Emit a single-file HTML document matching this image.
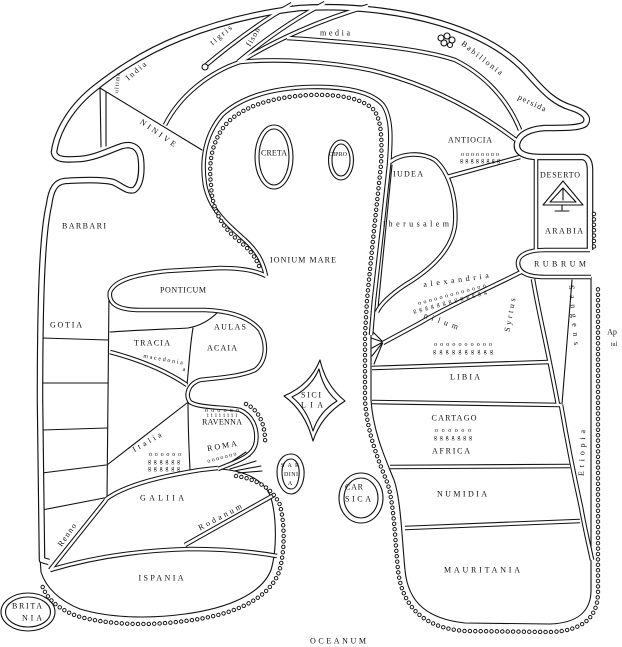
<!DOCTYPE html>
<html><head><meta charset="utf-8">
<style>
html,body{margin:0;padding:0;background:#fff;}
svg{display:block;}
.s{fill:none;stroke:#111;stroke-width:1.1;stroke-linecap:round;stroke-linejoin:round}
.W{fill:none;stroke:#111;stroke-width:6.6;stroke-linejoin:round}
.Wi{fill:none;stroke:#fff;stroke-width:4.3;stroke-linejoin:round}
.N{fill:none;stroke:#111;stroke-width:4.6;stroke-linejoin:round}
.Ni{fill:none;stroke:#fff;stroke-width:2.5;stroke-linejoin:round}
.R{fill:none;stroke:#111;stroke-width:4.4;stroke-linecap:round;stroke-dasharray:0.001 5.4}
.Ri{fill:none;stroke:#fff;stroke-width:2.5;stroke-linecap:round;stroke-dasharray:0.001 5.4}
text{font-family:"Liberation Serif",serif;font-size:8px;fill:#111;dominant-baseline:central;text-anchor:middle}
.sm{font-size:6px}
</style></head><body>
<svg width="622" height="647" viewBox="0 0 622 647" xmlns="http://www.w3.org/2000/svg">
<defs>
<g id="gw">
<path d="M 49,562 L 42,560 L 40,400 C 40,300 42,235 49,205 C 51,190 55,182 65,181 C 80,180 100,179 113,182 C 122,186 127,192 134,190 C 141,185 142,172 141,160 C 140,148 133,143 122,146 C 110,150 95,158 80,159 C 65,160 55,160 54,152 C 57,130 72,106 95,88 C 120,68 150,50 180,38 C 215,24 255,13 300,8 C 350,5 400,11 440,23 C 480,35 510,52 530,76 C 545,93 555,103 572,108 C 584,112 590,118 585,124 C 580,128 565,128 545,128 C 530,129 519,134 517,144 C 516,152 523,157 540,157 L 583,157 C 588,158 590,163 590,170 L 590,250"/>
</g>
<g id="gn">
<path d="M 590,250 L 545,250 C 526,250 518,256 518,263 C 518,272 526,277 545,277 L 591,277"/>
<path d="M 536,157 L 536,250"/>
<path d="M 533,279 C 538,310 548,350 558,405"/>
<path d="M 266,276 C 263,262 258,252 245,240 C 228,225 210,210 205,185 C 201,160 205,135 222,115 C 240,98 270,88 310,87 C 345,86 372,92 383,105 C 392,118 391,140 389,165 L 382,230 L 374,300 L 371,335"/>
<path d="M 266,276 C 255,270 240,268 220,268 L 167,271 C 140,274 115,279 110,292 C 108,305 120,310 140,310 L 205,310 C 232,311 250,318 260,330 C 268,345 266,362 255,370 C 240,377 215,378 200,380 C 188,384 185,395 190,402 C 198,408 225,407 240,410 C 252,415 258,428 256,442 C 254,455 240,460 228,465 L 218,469"/>
<path d="M 105,500 C 120,488 150,478 200,470 L 218,468"/>
<path d="M 50,570 C 100,555 150,550 190,549 C 230,549 260,553 277,556"/>
<path d="M 50,570 L 106,500"/>
<path d="M 185,545 L 274,495"/>
<path d="M 110,352 C 140,360 165,370 187,385"/>
<path d="M 205,66 C 230,45 260,22 292,4"/>
<path d="M 238,62 C 262,42 292,20 325,3"/>
<path d="M 240,62 C 275,40 320,20 368,6"/>
<path d="M 240,62 C 210,72 180,95 165,125"/>
<path d="M 287,38 C 350,42 420,48 455,60 C 485,75 508,100 520,130"/>
<path d="M 240,62 C 280,58 330,62 370,70 C 420,82 470,105 516,140"/>
<path d="M 447,177 L 520,157"/>
<path d="M 390,162 C 400,154 420,151 435,160 C 450,173 457,200 455,225 C 452,250 430,270 405,285 C 390,295 380,305 377,312"/>
<path d="M 521,272 C 490,288 450,305 420,323 L 383,343"/>
<path d="M 372,368 L 549,362"/>
<path d="M 372,402 L 561,405"/>
<path d="M 390,467 L 570,466"/>
<path d="M 405,528 L 580,521"/>
<path d="M 561,405 C 567,440 575,480 581,507 C 585,530 590,550 592,560"/>
</g>
<g id="gr">
<path d="M 259,266 C 255,256 250,250 238,240 C 222,227 212,210 211,185 C 208,160 213,138 228,122 C 245,106 272,97 310,95 C 342,94 363,99 374,110 C 382,122 382,140 381,165 L 374,230 L 367,300 L 365,335 L 365,400 C 367,433 379,462 387,482 C 394,502 395,540 398,570 C 402,606 423,628 465,631 L 550,632 C 582,631 598,618 598,592 L 598,284"/>
<path d="M 594,214 L 594,248"/>
<path d="M 246,404 C 259,410 266,425 265,445"/>
<path d="M 236,476 C 257,479 273,489 280,505 C 285,525 285,552 279,572 C 269,598 236,615 185,621 C 148,626 108,625 77,616 C 58,609 46,598 42,585"/>
</g>
</defs>

<g class="s">
<path d="M 371,335 L 371,400 C 373,432 386,460 394,480 C 401,500 402,540 405,570 C 408,603 428,619 465,623 L 550,624 C 576,623 590,613 591,592 L 591,277"/>
<path d="M 218,469 C 242,470 262,478 270,495 C 277,515 277,550 271,570 C 262,593 230,608 185,614 C 148,619 110,618 80,609 C 60,601 46,588 41,572 L 40,558"/>
<path d="M 109,292 L 107,500"/>
<path d="M 42,338 L 108,340"/><path d="M 42,383 L 108,383"/><path d="M 42,430 L 107,428"/>
<path d="M 42,473 L 106,465"/><path d="M 42,510 L 104,498"/>
<path d="M 110,332 C 140,330 170,329 188,328 C 200,326 210,320 218,312"/>
<path d="M 193,328 C 190,345 189,365 187,385"/>
<path d="M 188,400 C 188,430 189,450 190,470"/>
<path d="M 187,403 L 107,465"/>
<path d="M 100,88 L 202,150"/>
<path d="M 100,88 L 101,147"/><path d="M 106,92 L 106,146"/>
<path d="M 562,404 L 572,280"/>
<path d="M 392,165 L 378,308"/>
<path d="M 383,342 L 371,330 M 383,342 L 371,338 M 383,342 L 372,348 M 383,342 L 372,356 M 383,342 L 374,364"/>
<path d="M 226,466 L 250,456 M 230,469 L 256,461 M 234,471 L 261,466 M 238,473 L 262,471 M 228,464 L 246,452"/>
</g>

<use href="#gw" class="W"/>
<use href="#gn" class="N"/>
<use href="#gw" class="Wi"/>
<use href="#gn" class="Ni"/>
<use href="#gr" class="R"/>
<use href="#gr" class="Ri"/>

<circle cx="205" cy="67" r="3" fill="#fff" stroke="#111" stroke-width="1.1"/>

<g class="s">
<ellipse cx="274" cy="157" rx="19" ry="32"/><ellipse cx="274" cy="157" rx="15" ry="28"/>
<ellipse cx="341" cy="160" rx="12.5" ry="20"/><ellipse cx="341" cy="160" rx="9" ry="16"/>
<path d="M 320,360 Q 326,386 345,401 Q 321,416 313,441 Q 305,411 284,396 Q 310,385 320,360 Z"/>
<path d="M 319,369 Q 323,389 337,401 Q 319,412 313,431 Q 307,409 292,397 Q 311,388 319,369 Z"/>
<path d="M 291,454 C 300,454 305,465 304,476 C 303,487 297,494 291,494 C 284,494 277,485 277,472 C 277,461 283,454 291,454 Z"/>
<path d="M 291,459 C 297,459 300,467 299,476 C 298,485 295,489 291,489 C 286,489 282,482 282,472 C 282,464 286,459 291,459 Z"/>
<ellipse cx="361" cy="498" rx="22" ry="25"/><ellipse cx="361" cy="498" rx="17" ry="20"/>
<ellipse cx="28" cy="612" rx="27" ry="19"/><ellipse cx="28" cy="612" rx="22.5" ry="15"/>
<path d="M 563,181 L 583,205 L 543,205 Z"/><path d="M 563,188 L 576,202 L 550,202 Z"/>
<path d="M 562,205 L 562,210 M 555,211 L 569,211 M 563,188 L 563,200"/>
</g>
<g fill="none" stroke="#111" stroke-width="1.1">
<circle cx="441" cy="38" r="3"/><circle cx="447" cy="36" r="3"/><circle cx="452" cy="40" r="3"/><circle cx="444" cy="43" r="3"/><circle cx="450" cy="45" r="2.5"/>
</g>

<text x="221" y="35" transform="rotate(-40 221 35)" textLength="26">tigris</text>
<text x="253" y="37" transform="rotate(-60 253 37)" textLength="20">fison</text>
<text x="335" y="33" textLength="30">media</text>
<text x="482" y="58" transform="rotate(38 482 58)" textLength="50">Babillonia</text>
<text x="532" y="103" transform="rotate(25 532 103)" textLength="30">persida</text>
<text x="136" y="71" transform="rotate(-40 136 71)" textLength="24">India</text>
<text class="sm" x="118" y="83" transform="rotate(-85 118 83)" textLength="20">ultima</text>
<text x="158" y="133" transform="rotate(35 158 133)" textLength="42">NINIVE</text>
<text x="84" y="226" textLength="44">BARBARI</text>
<text x="274" y="153" textLength="26">CRETA</text>
<text class="sm" x="338" y="155" textLength="18">CIPRO</text>
<text x="303" y="260" textLength="66">IONIUM MARE</text>
<text x="183" y="290" textLength="46">PONTICUM</text>
<text x="470" y="140" textLength="44">ANTIOCIA</text>
<text class="sm" x="480" y="155" textLength="38">oooooooo</text>
<text class="sm" x="480" y="161" textLength="40">gggggggg</text>
<text x="408" y="174" textLength="30">IUDEA</text>
<text x="560" y="175" textLength="40">DESERTO</text>
<text x="564" y="231" textLength="38">ARABIA</text>
<text x="416" y="224" textLength="66">iherusalem</text>
<text x="560" y="264" textLength="52">RUBRUM</text>
<text x="456" y="280" transform="rotate(-8 456 280)" textLength="66">alexandria</text>
<text class="sm" x="452" y="295" transform="rotate(-15 452 295)" textLength="70">ooooooooooooo</text>
<text class="sm" x="450" y="302" transform="rotate(-15 450 302)" textLength="76">ggggggggggggg</text>
<text x="441" y="321" transform="rotate(20 441 321)" textLength="36">nilum</text>
<text x="510" y="315" transform="rotate(-80 510 315)" textLength="34">Syrtus</text>
<text x="574" y="315" transform="rotate(85 574 315)" textLength="60">Sangens</text>
<text x="612" y="332">Ap</text>
<text class="sm" x="614" y="345">iul</text>
<text class="sm" x="463" y="345" textLength="58">oooooooooo</text>
<text class="sm" x="463" y="352" textLength="60">gggggggggg</text>
<text x="465" y="377" textLength="30">LIBIA</text>
<text x="454" y="418" textLength="45">CARTAGO</text>
<text class="sm" x="453" y="431" textLength="36">oooooo</text>
<text class="sm" x="453" y="438" textLength="38">ggggggg</text>
<text x="451" y="451" textLength="38">AFRICA</text>
<text x="582" y="453" transform="rotate(-88 582 453)" textLength="46">Etiopia</text>
<text x="462" y="494" textLength="50">NUMIDIA</text>
<text x="482" y="570" textLength="76">MAURITANIA</text>
<text x="338" y="641" textLength="56">OCEANUM</text>
<text x="311" y="395" textLength="20">SICI</text>
<text x="312" y="405" textLength="22">LIA</text>
<text x="354" y="487" textLength="18">CAR</text>
<text x="358" y="499" textLength="26">SICA</text>
<text class="sm" x="290" y="466" textLength="18">SAR</text>
<text class="sm" x="291" y="475" textLength="14">DINI</text>
<text class="sm" x="290" y="484">A</text>
<text x="66" y="325" textLength="32">GOTIA</text>
<text x="152" y="343" textLength="36">TRACIA</text>
<text x="230" y="327" textLength="32">AULAS</text>
<text x="222" y="348" textLength="30">ACAIA</text>
<text class="sm" x="163" y="360" transform="rotate(10 163 360)" textLength="40">macedonia</text>
<text class="sm" x="184" y="370">a</text>
<text class="sm" x="222" y="411" textLength="34">oooooo</text>
<text class="sm" x="222" y="416" textLength="30">iiiiiiii</text>
<text x="222" y="422" textLength="40">RAVENNA</text>
<text x="147" y="442" transform="rotate(-30 147 442)" textLength="32">Italia</text>
<text class="sm" x="165" y="455" textLength="32">oooooo</text>
<text class="sm" x="164" y="462" textLength="32">gggggg</text>
<text class="sm" x="164" y="469" textLength="32">gggggg</text>
<text x="222" y="446" transform="rotate(-10 222 446)" textLength="30">ROMA</text>
<text class="sm" x="222" y="458" transform="rotate(-15 222 458)" textLength="30">ooooooo</text>
<text x="162" y="498" textLength="44">GALIIA</text>
<text x="220" y="517" transform="rotate(-28 220 517)" textLength="48">Rodanum</text>
<text x="67" y="535" transform="rotate(-55 67 535)" textLength="26">Renno</text>
<text x="161" y="578" textLength="45">ISPANIA</text>
<text x="27" y="606" textLength="30">BRITA</text>
<text x="32" y="618" textLength="20">NIA</text>
</svg>
</body></html>
